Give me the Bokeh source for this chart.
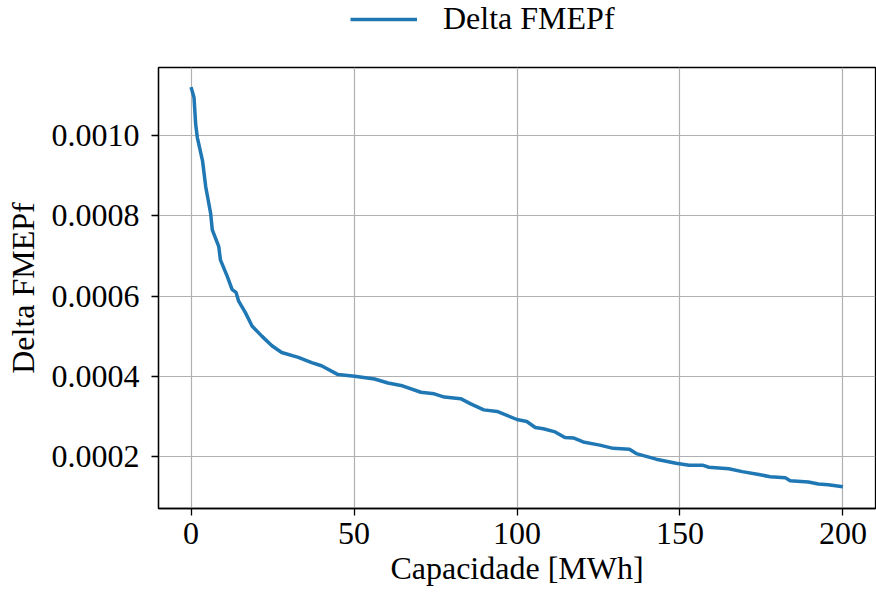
from bokeh.plotting import figure
from bokeh.layouts import column
from bokeh.models import FixedTicker, PrintfTickFormatter, Legend, LegendItem, Range1d
from bokeh.embed import file_html
from bokeh.resources import INLINE

capacidade = [0, 0.9, 1.4, 1.9, 3.5, 4.5, 6.0, 6.5, 8.5, 9.0, 11.1, 12.6, 13.8, 14.6,
              16.7, 18.7, 21.7, 24.8, 27.8, 32.9, 37.0, 40.0, 45.1, 50.2, 56.3, 60.4,
              64.4, 70.5, 74.6, 77.7, 82.7, 85.8, 89.8, 93.9, 100, 103, 105.6, 108.1,
              111.7, 114.7, 117.3, 120.3, 125.4, 129.5, 134.5, 136.6, 142.7, 148.8,
              152.8, 156.9, 158.9, 165, 169.1, 174.2, 177.7, 182.3, 183.8, 189.4,
              192.5, 195.5, 200]
delta_fmepf = [0.001121, 0.001095, 0.001029, 0.000996, 0.000938, 0.000872, 0.000806,
               0.000765, 0.000723, 0.000690, 0.000649, 0.000616, 0.000609, 0.000587,
               0.000558, 0.000525, 0.000500, 0.000476, 0.000459, 0.000447, 0.000434,
               0.000426, 0.000404, 0.000400, 0.000393, 0.000383, 0.000377, 0.000360,
               0.000356, 0.000348, 0.000344, 0.000331, 0.000316, 0.000312, 0.000292,
               0.000287, 0.000272, 0.000269, 0.000261, 0.000247, 0.000246, 0.000236,
               0.000228, 0.000220, 0.000218, 0.000207, 0.000193, 0.000183, 0.000178,
               0.000178, 0.000173, 0.000169, 0.000162, 0.000155, 0.000149, 0.000147,
               0.000139, 0.000136, 0.000131, 0.000129, 0.000124]
x_ticks = [0, 50, 100, 150, 200]
y_ticks = [0.0002, 0.0004, 0.0006, 0.0008, 0.0010]
series_name = "Delta FMEPf"

FONT = "Liberation Serif"
FS = "32px"
BLUE = "#1f77b4"

# --- legend strip (separate figure above the plot) ---
leg = figure(width=876, height=65, output_backend="svg", toolbar_location=None,
             x_range=Range1d(300, 400), y_range=Range1d(0, 1),
             min_border_left=0, min_border_right=0, min_border_top=0, min_border_bottom=0)
leg.axis.visible = False
leg.grid.visible = False
leg.outline_line_color = None
leg.background_fill_color = "white"
leg.border_fill_color = "white"
lr = leg.line(capacidade, delta_fmepf, line_color=BLUE, line_width=3.5)
legend = Legend(items=[LegendItem(label=series_name, renderers=[lr])],
                location=(192, 28), orientation="horizontal",
                label_text_font=FONT, label_text_font_size=FS, label_text_color="black",
                glyph_width=67, glyph_height=30, label_height=36, label_standoff=26,
                padding=0, margin=0, border_line_color=None,
                background_fill_alpha=0)
leg.add_layout(legend, "center")

# --- main plot ---
p = figure(width=876, height=536, output_backend="svg", toolbar_location=None,
           x_range=Range1d(-10, 210), y_range=Range1d(0.00007, 0.00117),
           min_border_left=158, min_border_right=1, min_border_top=2, min_border_bottom=93)
p.background_fill_color = "white"
p.border_fill_color = "white"
p.outline_line_color = "black"
p.outline_line_width = 1.3

p.line(capacidade, delta_fmepf, line_color=BLUE, line_width=3.5)

for ax in (p.xaxis[0], p.yaxis[0]):
    ax.axis_line_width = 1.3
    ax.major_tick_line_width = 1.3
    ax.major_tick_out = 7
    ax.major_tick_in = 0
    ax.minor_tick_line_color = None
    ax.major_label_text_font = FONT
    ax.major_label_text_font_size = FS
    ax.major_label_text_color = "black"
    ax.axis_label_text_font = FONT
    ax.axis_label_text_font_size = FS
    ax.axis_label_text_font_style = "normal"
    ax.axis_label_text_color = "black"

p.xaxis.ticker = FixedTicker(ticks=x_ticks)
p.yaxis.ticker = FixedTicker(ticks=y_ticks)
p.yaxis.formatter = PrintfTickFormatter(format="%.4f")
p.xaxis.axis_label = "Capacidade [MWh]"
p.yaxis.axis_label = series_name
p.xaxis.major_label_standoff = 7
p.yaxis.major_label_standoff = 12
p.xaxis.axis_label_standoff = 3
p.yaxis.axis_label_standoff = 8

p.xgrid.ticker = FixedTicker(ticks=x_ticks)
p.ygrid.ticker = FixedTicker(ticks=y_ticks)
p.grid.grid_line_color = "#b0b0b0"
p.grid.grid_line_width = 1.2

layout = column(leg, p, spacing=0)
open("out.html", "w").write(file_html(layout, INLINE))
